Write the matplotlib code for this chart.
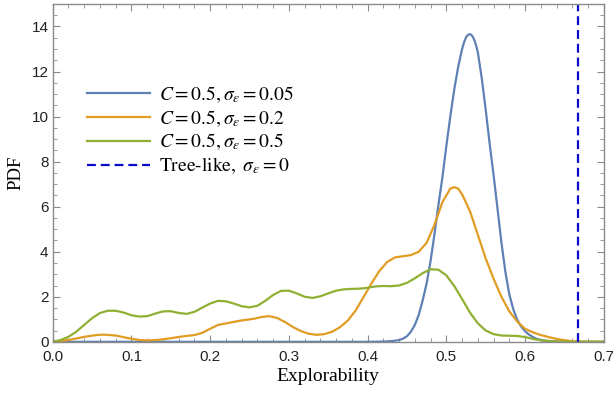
import matplotlib
matplotlib.use("Agg")
import matplotlib.pyplot as plt
from matplotlib.ticker import MultipleLocator

plt.rcParams['mathtext.fontset'] = 'stix'

# C = 0.5, sigma_eps = 0.05
x_blue = [0.0, 0.40, 0.42, 0.425, 0.43, 0.435, 0.44, 0.445, 0.45, 0.455, 0.46, 0.465,
          0.47, 0.475, 0.48, 0.485, 0.49, 0.495, 0.50, 0.505, 0.51, 0.515, 0.52,
          0.5225, 0.525, 0.5275, 0.53, 0.5325, 0.535, 0.5375, 0.54, 0.545, 0.55,
          0.555, 0.56, 0.565, 0.57, 0.575, 0.58, 0.585, 0.59, 0.595, 0.60, 0.605,
          0.61, 0.615, 0.62, 0.625, 0.63, 0.64, 0.66, 0.70]
y_blue = [0.0, 0.0, 0.01, 0.02, 0.03, 0.05, 0.08, 0.14, 0.25, 0.45, 0.75, 1.2,
          1.85, 2.6, 3.6, 4.8, 6.1, 7.3, 8.7, 10.0, 11.2, 12.2, 13.0,
          13.3, 13.52, 13.63, 13.66, 13.6, 13.45, 13.2, 12.85, 11.7, 10.3,
          8.8, 7.4, 5.9, 4.4, 3.1, 2.1, 1.45, 0.98, 0.68, 0.47, 0.32,
          0.21, 0.13, 0.08, 0.05, 0.03, 0.01, 0.0, 0.0]

# C = 0.5, sigma_eps = 0.2
x_orange = [0.0, 0.02, 0.04, 0.055, 0.065, 0.08, 0.095, 0.11, 0.12, 0.135, 0.15,
            0.165, 0.18, 0.19, 0.20, 0.21, 0.225, 0.24, 0.255, 0.265, 0.275,
            0.285, 0.295, 0.305, 0.315, 0.325, 0.335, 0.345, 0.355, 0.365, 0.375,
            0.385, 0.395, 0.405, 0.415, 0.425, 0.435, 0.445, 0.455, 0.465, 0.475,
            0.485, 0.495, 0.505, 0.51, 0.515, 0.52, 0.53, 0.54, 0.55, 0.56, 0.57,
            0.58, 0.59, 0.60, 0.61, 0.62, 0.63, 0.64, 0.65, 0.66, 0.67, 0.70]
y_orange = [0.0, 0.08, 0.22, 0.30, 0.32, 0.28, 0.17, 0.08, 0.06, 0.09, 0.16,
            0.24, 0.30, 0.40, 0.58, 0.75, 0.85, 0.95, 1.02, 1.10, 1.14,
            1.06, 0.88, 0.66, 0.48, 0.36, 0.31, 0.34, 0.45, 0.65, 0.95,
            1.40, 2.0, 2.6, 3.15, 3.55, 3.75, 3.80, 3.85, 4.0, 4.4,
            5.2, 6.2, 6.8, 6.87, 6.8, 6.55, 5.8, 4.75, 3.7, 2.8, 2.0,
            1.35, 0.9, 0.58, 0.42, 0.30, 0.21, 0.13, 0.07, 0.03, 0.01, 0.0]

# C = 0.5, sigma_eps = 0.5
x_green = [0.0, 0.01, 0.02, 0.03, 0.04, 0.05, 0.06, 0.07, 0.08, 0.09, 0.10, 0.11,
           0.12, 0.13, 0.14, 0.15, 0.16, 0.17, 0.18, 0.19, 0.20, 0.21, 0.22, 0.23,
           0.24, 0.25, 0.26, 0.27, 0.28, 0.29, 0.30, 0.31, 0.32, 0.33, 0.34, 0.35,
           0.36, 0.37, 0.38, 0.39, 0.40, 0.41, 0.42, 0.43, 0.44, 0.45, 0.46, 0.47,
           0.48, 0.49, 0.50, 0.51, 0.52, 0.53, 0.54, 0.55, 0.56, 0.57, 0.58, 0.59,
           0.60, 0.61, 0.62, 0.63, 0.64, 0.66, 0.70]
y_green = [0.0, 0.08, 0.22, 0.45, 0.75, 1.05, 1.28, 1.38, 1.38, 1.30, 1.18, 1.12,
           1.14, 1.25, 1.35, 1.36, 1.28, 1.24, 1.33, 1.52, 1.70, 1.82, 1.80, 1.70,
           1.58, 1.53, 1.60, 1.82, 2.08, 2.26, 2.27, 2.15, 2.00, 1.95, 2.02, 2.15,
           2.27, 2.33, 2.35, 2.36, 2.40, 2.46, 2.48, 2.47, 2.50, 2.62, 2.82, 3.05,
           3.22, 3.20, 2.95, 2.48, 1.90, 1.30, 0.82, 0.50, 0.34, 0.28, 0.27, 0.26,
           0.21, 0.13, 0.07, 0.04, 0.02, 0.0, 0.0]

# tree-like limit, sigma_eps = 0
x_tree = 2 / 3

fig = plt.figure(figsize=(6.13, 3.97), dpi=100)
ax = fig.add_axes([0.086, 0.139, 0.899, 0.851])

ax.plot(x_blue, y_blue, color='#5E81B5', lw=1.6, label=r'$C=0.5,\sigma_\epsilon=0.05$')
ax.plot(x_orange, y_orange, color='#E19C24', lw=1.6, label=r'$C=0.5,\sigma_\epsilon=0.2$')
ax.plot(x_green, y_green, color='#8FB032', lw=1.6, label=r'$C=0.5,\sigma_\epsilon=0.5$')
ax.axvline(x_tree, color='#0a0ac8', lw=1.6, ls=(0, (4, 2.2)),
           label=r'$\mathrm{Tree\text{-}like},\ \sigma_\epsilon=0$')

ax.set_xlim(0, 0.7)
ax.set_ylim(0, 15)
ax.xaxis.set_major_locator(MultipleLocator(0.1))
ax.xaxis.set_minor_locator(MultipleLocator(0.02))
ax.yaxis.set_major_locator(MultipleLocator(2))
ax.yaxis.set_minor_locator(MultipleLocator(0.5))
ax.set_xticklabels([f'{v:.1f}' for v in ax.get_xticks()])

for s in ax.spines.values():
    s.set_color('#8a8a8a')
    s.set_linewidth(1.0)
ax.tick_params(which='both', direction='in', top=True, right=True, color='#8a8a8a',
               labelsize=11, labelcolor='#222222')
ax.tick_params(axis='x', pad=6)
ax.tick_params(axis='y', pad=3)
ax.tick_params(which='major', length=5, width=0.8)
ax.tick_params(which='minor', length=2.8, width=0.6)
for lbl in ax.get_xticklabels() + ax.get_yticklabels():
    lbl.set_family('Liberation Sans')

ax.set_xlabel('Explorability', family='Liberation Serif', fontsize=14, labelpad=3)
ax.set_ylabel('PDF', family='Liberation Serif', fontsize=13.5, labelpad=5)

leg = ax.legend(loc='upper left', bbox_to_anchor=(0.049, 0.785), frameon=False,
                fontsize=14, handlelength=3.2, handletextpad=0.5,
                labelspacing=0.17, borderaxespad=0)

fig.savefig('out.png', dpi=100)
